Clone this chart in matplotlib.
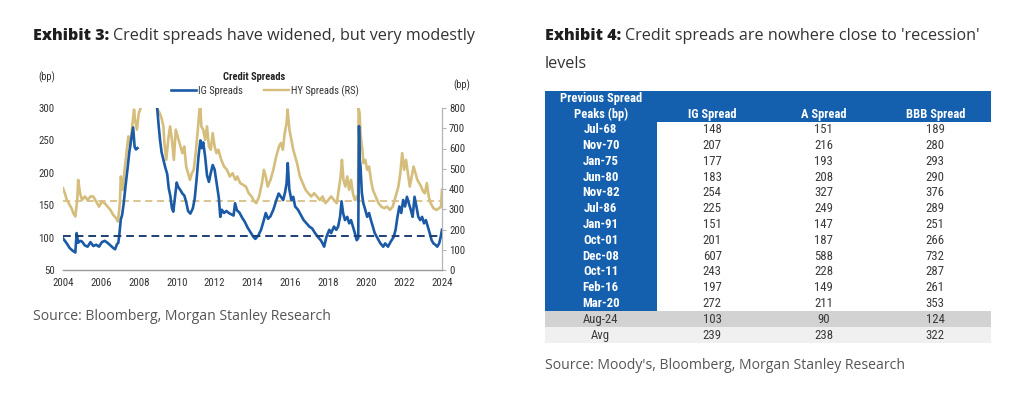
import numpy as np
import matplotlib
matplotlib.use("Agg")
import matplotlib.pyplot as plt
from matplotlib.patches import Rectangle
from matplotlib import font_manager

W, H = 1021, 398

# ---------------- data : Exhibit 3 ----------------
ig_years = [2004.00, 2004.10, 2004.20, 2004.35, 2004.50, 2004.65, 2004.72, 2004.80, 2004.90,
            2005.00, 2005.15, 2005.30, 2005.45, 2005.60, 2005.75, 2005.90, 2006.05, 2006.20,
            2006.35, 2006.50, 2006.65, 2006.75, 2006.85, 2006.92, 2006.97, 2007.05, 2007.12,
            2007.20, 2007.30, 2007.40, 2007.50, 2007.60, 2007.70, 2007.78, 2007.85, 2007.93,
            2008.45,
            2008.97, 2009.05, 2009.12, 2009.20, 2009.30, 2009.40, 2009.50, 2009.58, 2009.66,
            2009.75, 2009.82, 2009.90, 2010.00, 2010.08, 2010.18, 2010.30, 2010.40, 2010.50,
            2010.60, 2010.72, 2010.85, 2010.95, 2011.05, 2011.15, 2011.25, 2011.32, 2011.40,
            2011.50, 2011.60, 2011.70, 2011.80, 2011.90, 2012.00, 2012.10, 2012.22, 2012.30,
            2012.38, 2012.50, 2012.62, 2012.75, 2012.88, 2013.00, 2013.08, 2013.18, 2013.30,
            2013.45, 2013.60, 2013.75, 2013.90, 2014.05, 2014.15, 2014.30, 2014.45, 2014.58,
            2014.70, 2014.82, 2014.95, 2015.10, 2015.25, 2015.38, 2015.50, 2015.62, 2015.72,
            2015.80, 2015.86, 2015.94, 2016.05, 2016.15, 2016.25, 2016.40, 2016.55, 2016.70,
            2016.85, 2017.00, 2017.15, 2017.30, 2017.45, 2017.60, 2017.70, 2017.78, 2017.90,
            2018.05, 2018.15, 2018.30, 2018.42, 2018.52, 2018.62, 2018.70, 2018.78, 2018.88,
            2019.00, 2019.10, 2019.20, 2019.30, 2019.40, 2019.50, 2019.58, 2019.62, 2019.66,
            2019.70, 2019.77, 2019.85, 2019.95, 2020.05, 2020.15, 2020.25, 2020.35, 2020.45,
            2020.60, 2020.75, 2020.90, 2021.00, 2021.15, 2021.30, 2021.45, 2021.55, 2021.65,
            2021.75, 2021.85, 2021.95, 2022.05, 2022.15, 2022.25, 2022.35, 2022.45, 2022.55,
            2022.65, 2022.75, 2022.85, 2022.95, 2023.05, 2023.15, 2023.25, 2023.35, 2023.45,
            2023.55, 2023.65, 2023.75, 2023.85, 2023.93, 2024.00]
ig_spreads = [99, 95, 91, 84, 80, 77, 107, 92, 95,
              94, 88, 86, 93, 87, 89, 86, 93, 95,
              92, 88, 84, 82, 90, 92, 104, 128, 135,
              152, 180, 205, 232, 252, 270, 240, 236, 238,
              np.nan,
              300, 272, 251, 232, 220, 208, 198, 176, 165,
              145, 140, 160, 185, 178, 174, 168, 165, 155,
              141, 137, 145, 160, 190, 225, 250, 238, 247,
              225, 196, 186, 200, 212, 205, 185, 162, 132,
              143, 138, 141, 138, 136, 134, 153, 142, 139,
              131, 124, 115, 108, 101, 98, 103, 112, 125,
              138, 129, 133, 143, 157, 168, 163, 158, 170,
              184, 215, 175, 158, 163, 148, 143, 135, 127,
              122, 117, 114, 107, 101, 96, 91, 86, 101,
              112, 107, 117, 112, 117, 132, 156, 138, 127,
              132, 122, 127, 117, 107, 96, 99, 272, 220,
              210, 169, 153, 143, 132, 138, 127, 117, 107,
              99, 91, 86, 91, 86, 94, 101, 112, 132,
              148, 138, 158, 148, 163, 153, 143, 132, 163,
              148, 132, 127, 132, 122, 127, 117, 107, 96,
              91, 89, 86, 91, 101, 112]

hy_years = [2004.00, 2004.10, 2004.20, 2004.30, 2004.45, 2004.55, 2004.65, 2004.75, 2004.80,
            2004.90, 2005.00, 2005.15, 2005.30, 2005.45, 2005.60, 2005.75, 2005.90, 2006.05,
            2006.20, 2006.35, 2006.50, 2006.65, 2006.80, 2006.90, 2007.00, 2007.05, 2007.15,
            2007.25, 2007.35, 2007.45, 2007.55, 2007.65, 2007.75, 2007.80, 2007.90, 2008.00,
            2008.10, 2008.50,
            2008.95, 2009.00, 2009.10, 2009.20, 2009.30, 2009.35, 2009.45, 2009.55, 2009.65,
            2009.75, 2009.85, 2009.95, 2010.05, 2010.15, 2010.30, 2010.40, 2010.50, 2010.60,
            2010.70, 2010.80, 2010.90, 2011.00, 2011.10, 2011.20, 2011.25, 2011.30, 2011.40,
            2011.50, 2011.60, 2011.70, 2011.80, 2011.90, 2012.00, 2012.10, 2012.20, 2012.35,
            2012.50, 2012.65, 2012.80, 2012.95, 2013.10, 2013.20, 2013.35, 2013.50, 2013.65,
            2013.80, 2013.95, 2014.10, 2014.20, 2014.35, 2014.50, 2014.60, 2014.70, 2014.80,
            2014.95, 2015.10, 2015.25, 2015.40, 2015.50, 2015.60, 2015.70, 2015.80, 2015.85,
            2015.95, 2016.05, 2016.15, 2016.25, 2016.35, 2016.50, 2016.65, 2016.80, 2016.95,
            2017.10, 2017.25, 2017.40, 2017.55, 2017.70, 2017.85, 2018.00, 2018.15, 2018.30,
            2018.45, 2018.55, 2018.65, 2018.72, 2018.80, 2018.90, 2019.00, 2019.10, 2019.20,
            2019.30, 2019.40, 2019.50, 2019.57, 2019.60, 2019.65, 2019.70, 2019.75, 2019.80,
            2019.85, 2019.95, 2020.05, 2020.15, 2020.25, 2020.35, 2020.50, 2020.65, 2020.80,
            2020.95, 2021.10, 2021.25, 2021.40, 2021.50, 2021.60, 2021.70, 2021.80, 2021.90,
            2022.00, 2022.10, 2022.20, 2022.30, 2022.40, 2022.50, 2022.60, 2022.70, 2022.80,
            2022.90, 2023.00, 2023.10, 2023.20, 2023.30, 2023.40, 2023.55, 2023.70, 2023.85,
            2023.95, 2024.00]
hy_spreads = [404, 379, 346, 330, 305, 280, 264, 346, 445,
              379, 346, 363, 346, 363, 363, 338, 313, 338,
              330, 313, 297, 272, 256, 239, 330, 462, 396,
              495, 577, 660, 610, 709, 792, 742, 693, 775,
              800, np.nan,
              800, 792, 775, 750, 709, 627, 544, 643, 709,
              643, 544, 693, 660, 627, 577, 610, 511, 478,
              445, 478, 495, 577, 676, 792, 800, 709, 693,
              643, 709, 610, 594, 676, 610, 577, 594, 544,
              511, 495, 462, 478, 445, 462, 429, 421, 412,
              379, 363, 338, 330, 363, 429, 495, 462, 412,
              445, 495, 561, 610, 627, 594, 676, 726, 792,
              693, 643, 594, 561, 528, 462, 429, 396, 379,
              363, 379, 363, 346, 363, 330, 346, 363, 346,
              330, 396, 462, 544, 445, 412, 462, 396, 445,
              379, 346, 363, 346, 800, 775, 676, 627, 594,
              528, 544, 495, 511, 445, 396, 363, 330, 313,
              305, 313, 297, 313, 346, 379, 412, 478, 577,
              495, 544, 478, 412, 462, 511, 478, 445, 429,
              412, 388, 379, 429, 363, 330, 305, 297, 305,
              313, 396]

ig_current = 103
hy_current = 340
year_ticks = list(range(2004, 2025, 2))
left_ticks = list(range(50, 301, 50))
right_ticks = list(range(0, 801, 100))

# ---------------- data : Exhibit 4 ----------------
peak_dates = ["Jul-68", "Nov-70", "Jan-75", "Jun-80", "Nov-82", "Jul-86", "Jan-91",
              "Oct-01", "Dec-08", "Oct-11", "Feb-16", "Mar-20", "Aug-24", "Avg"]
ig_peak = [148, 207, 177, 183, 254, 225, 151, 201, 607, 243, 197, 272, 103, 239]
a_peak = [151, 216, 193, 208, 327, 249, 147, 187, 588, 228, 149, 211, 90, 238]
bbb_peak = [189, 280, 293, 290, 376, 289, 251, 266, 732, 287, 261, 353, 124, 322]
table_headers = ["Previous Spread\nPeaks (bp)", "IG Spread", "A Spread", "BBB Spread"]

# ---------------- fonts ----------------
names = {f.name for f in font_manager.fontManager.ttflist}
def pick(*cands):
    for c in cands:
        if c in names:
            return c
    return "DejaVu Sans"
NARROW = pick("Liberation Sans Narrow", "Roboto Condensed", "Roboto")
TITLE = pick("Open Sans", "Noto Sans", "DejaVu Sans")

IG_C = "#1a5aa6"
HY_C = "#d5bd7c"
IG_DASH = "#1e3f73"
HY_DASH = "#d8bf86"
BLUE = "#1560ae"
TXT = "#3a3a3a"

fig = plt.figure(figsize=(W / 100, H / 100), dpi=100)
fig.patch.set_facecolor("white")

def fx(x):
    return x / W

def fy(y):
    return 1 - y / H

# ---------------- chart ----------------
ax = fig.add_axes([fx(63), fy(270), fx(442) - fx(63), fy(108) - fy(270)])
ax2 = ax.twinx()
ax.set_zorder(ax2.get_zorder() + 1)
ax.patch.set_visible(False)

ax2.plot(hy_years, hy_spreads, color=HY_C, lw=1.9, solid_joinstyle="round")
ax2.axhline(hy_current, color=HY_DASH, lw=1.3, ls=(0, (4, 2.5)))
ax.plot(ig_years, ig_spreads, color=IG_C, lw=1.9, solid_joinstyle="round", label="IG Spreads")
ax.axhline(ig_current, color=IG_DASH, lw=1.4, ls=(0, (4, 2.5)))
ax.plot([], [], color=HY_C, lw=1.7, label="HY Spreads (RS)")

ax.set_xlim(2004, 2024)
ax.set_ylim(50, 300)
ax2.set_ylim(0, 800)
ax.set_xticks(year_ticks)
ax.set_yticks(left_ticks)
ax2.set_yticks(right_ticks)

for a in (ax, ax2):
    for s in ("top", "left"):
        a.spines[s].set_visible(False)
ax.spines["right"].set_visible(False)
ax2.spines["bottom"].set_visible(False)
ax.spines["bottom"].set_color("#9a9a9a")
ax.spines["bottom"].set_linewidth(1.0)
ax2.spines["right"].set_color("#b5b5b5")
ax2.spines["right"].set_linewidth(0.9)

ax.tick_params(axis="x", length=0, pad=6, colors="#333333", labelsize=7.8)
ax.tick_params(axis="y", length=0, pad=6, colors="#333333", labelsize=7.8)
ax2.tick_params(axis="y", length=3, width=0.8, color="#b5b5b5", pad=2,
                labelcolor="#333333", labelsize=7.8)
for lab in ax.get_xticklabels() + ax.get_yticklabels() + ax2.get_yticklabels():
    lab.set_fontfamily(NARROW)

fig.text(fx(47), fy(77), "(bp)", ha="center", va="center", family=NARROW, size=7.6, color="#333333")
fig.text(fx(462), fy(85), "(bp)", ha="center", va="center", family=NARROW, size=7.6, color="#333333")
fig.text(fx(254), fy(77), "Credit Spreads", ha="center", va="center", family=NARROW,
         size=7.6, weight="bold", color="#222222")
leg = ax.legend(loc="center", bbox_to_anchor=(fx(265), fy(91)), bbox_transform=fig.transFigure,
                ncol=2, frameon=False, handlelength=2.4, handletextpad=0.15, columnspacing=2.0,
                prop=dict(family=NARROW, size=7.6), borderpad=0, borderaxespad=0)
for t in leg.get_texts():
    t.set_color("#333333")

# ---------------- titles ----------------
fig.canvas.draw()
renderer = fig.canvas.get_renderer()

def two_part(x, y, bold, rest):
    t1 = fig.text(fx(x), fy(y), bold, ha="left", va="baseline", family=TITLE,
                  weight="heavy", size=11.6, color="#1e1e1e")
    bb = t1.get_window_extent(renderer=renderer)
    fig.text(bb.x1 / W + 4 / W, fy(y), rest, ha="left", va="baseline", family=TITLE,
             size=11.6, color="#333333")

two_part(33, 40, "Exhibit 3:", "Credit spreads have widened, but very modestly")
two_part(545, 40, "Exhibit 4:", "Credit spreads are nowhere close to 'recession'")
fig.text(fx(545), fy(68), "levels", ha="left", va="baseline", family=TITLE, size=11.6, color="#333333")

fig.text(fx(33), fy(320), "Source: Bloomberg, Morgan Stanley Research", ha="left", va="baseline",
         family=TITLE, size=10.1, color="#555555")
fig.text(fx(545), fy(369), "Source: Moody's, Bloomberg, Morgan Stanley Research", ha="left",
         va="baseline", family=TITLE, size=10.1, color="#555555")

# ---------------- table ----------------
tax = fig.add_axes([fx(545), fy(343), fx(991) - fx(545), fy(91) - fy(343)])
n_rows = len(peak_dates)
header_h = 1.95
n_cols = len(table_headers)
tax.set_xlim(0, n_cols)
tax.set_ylim(n_rows + header_h, 0)
tax.axis("off")

tax.add_patch(Rectangle((0, 0), n_cols, header_h, facecolor=BLUE, edgecolor="none"))
for i, lab in enumerate(peak_dates):
    y0 = header_h + i
    if lab == "Aug-24":
        tax.add_patch(Rectangle((0, y0), n_cols, 1, facecolor="#d2d2d2", edgecolor="none"))
        first_color, first_weight = TXT, "normal"
    elif lab == "Avg":
        tax.add_patch(Rectangle((0, y0), n_cols, 1, facecolor="#f0f0f0", edgecolor="none"))
        first_color, first_weight = TXT, "normal"
    else:
        tax.add_patch(Rectangle((0, y0), 1, 1, facecolor=BLUE, edgecolor="none"))
        first_color, first_weight = "white", "bold"
    ymid = y0 + 0.5
    tax.text(0.5, ymid, lab, ha="center", va="center", family=NARROW, size=9.2,
             color=first_color, weight=first_weight)
    for j, vals in enumerate((ig_peak, a_peak, bbb_peak)):
        tax.text(j + 1.5, ymid, str(vals[i]), ha="center", va="center", family=NARROW,
                 size=9.2, color=TXT)

tax.text(0.5, 0.47, "Previous Spread", ha="center", va="center", family=NARROW, size=9.0,
         color="white", weight="bold")
tax.text(0.5, 1.47, "Peaks (bp)", ha="center", va="center", family=NARROW, size=9.0,
         color="white", weight="bold")
for j, h in enumerate(table_headers[1:]):
    tax.text(j + 1.5, 1.47, h, ha="center", va="center", family=NARROW, size=9.0,
             color="white", weight="bold")

fig.savefig("out.png", dpi=100, facecolor="white")
